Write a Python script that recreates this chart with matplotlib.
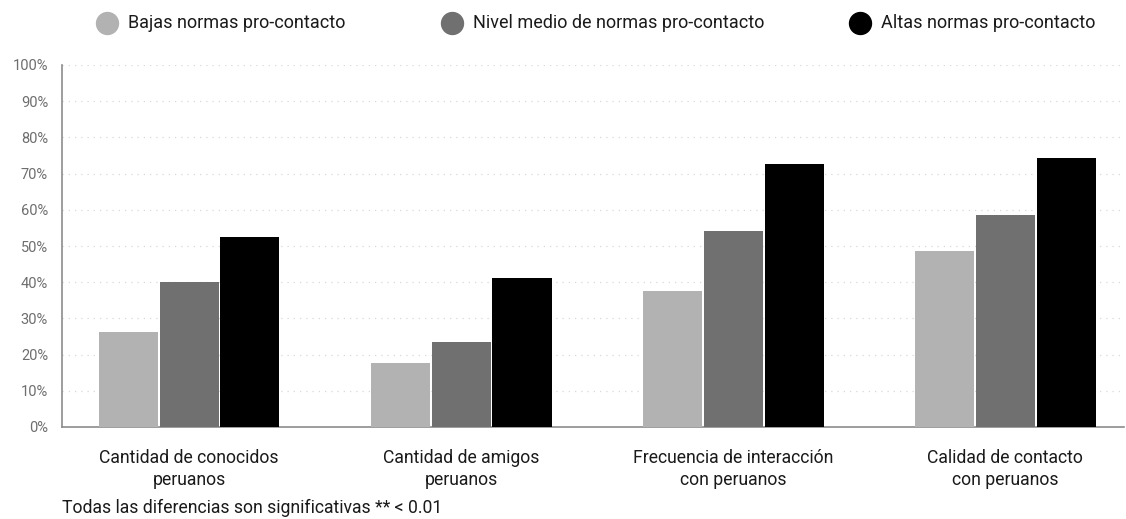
import matplotlib
matplotlib.use("Agg")
import matplotlib.pyplot as plt
from matplotlib.lines import Line2D
import numpy as np

# data
categories = ["Cantidad de conocidos\nperuanos", "Cantidad de amigos\nperuanos",
              "Frecuencia de interacción\ncon peruanos", "Calidad de contacto\ncon peruanos"]
series_names = ["Bajas normas pro-contacto", "Nivel medio de normas pro-contacto",
                "Altas normas pro-contacto"]
bajas = [26.2, 17.7, 37.6, 48.6]
medio = [40.0, 23.5, 54.1, 58.6]
altas = [52.5, 41.2, 72.7, 74.3]
yticks = [0, 10, 20, 30, 40, 50, 60, 70, 80, 90, 100]
note = "Todas las diferencias son significativas ** < 0.01"

colors = ["#b2b2b2", "#707070", "#000000"]
plt.rcParams["font.family"] = ["Roboto", "DejaVu Sans"]

fig = plt.figure(figsize=(11.26, 5.19), dpi=100)
ax = fig.add_axes([62 / 1126, 1 - 427 / 519, 1062 / 1126, 362 / 519])

x = np.arange(len(categories))
w = 0.217
step = 0.224
for i, (vals, c) in enumerate(zip([bajas, medio, altas], colors)):
    ax.bar(x + (i - 1) * step, vals, width=w, color=c, zorder=3)

ax.set_xlim(-0.467, 3.437)
ax.set_ylim(0, 100)
ax.set_yticks(yticks)
ax.set_yticklabels([f"{t}%" for t in yticks], color="#6e6e6e", fontsize=10.5)
ax.set_xticks(x)
ax.set_xticklabels(categories, fontsize=12.7, color="#1a1a1a", linespacing=1.25)
ax.tick_params(axis="both", length=0)
ax.tick_params(axis="y", pad=10)
ax.tick_params(axis="x", pad=16)
for t in yticks[1:]:
    ax.axhline(t, color="#d9d9d9", lw=0.9, ls=(0, (1, 4)), zorder=1)
for s in ["top", "right"]:
    ax.spines[s].set_visible(False)
ax.spines["left"].set_color("#8c8c8c")
ax.spines["bottom"].set_color("#8c8c8c")
ax.spines["left"].set_linewidth(1.2)
ax.spines["bottom"].set_linewidth(1.2)

# legend
leg_x = [107, 452, 860]
for name, c, lx in zip(series_names, colors, leg_x):
    fig.add_artist(Line2D([lx / 1126], [1 - 23 / 519], marker="o", markersize=15.8,
                          color=c, transform=fig.transFigure))
    fig.text((lx + 21) / 1126, 1 - 23 / 519, name, fontsize=13, color="#1a1a1a",
             va="center", ha="left")

fig.text(62 / 1126, 2 / 519, note, fontsize=12.7, color="#1a1a1a", va="bottom", ha="left")

fig.savefig("out.png", dpi=100)
